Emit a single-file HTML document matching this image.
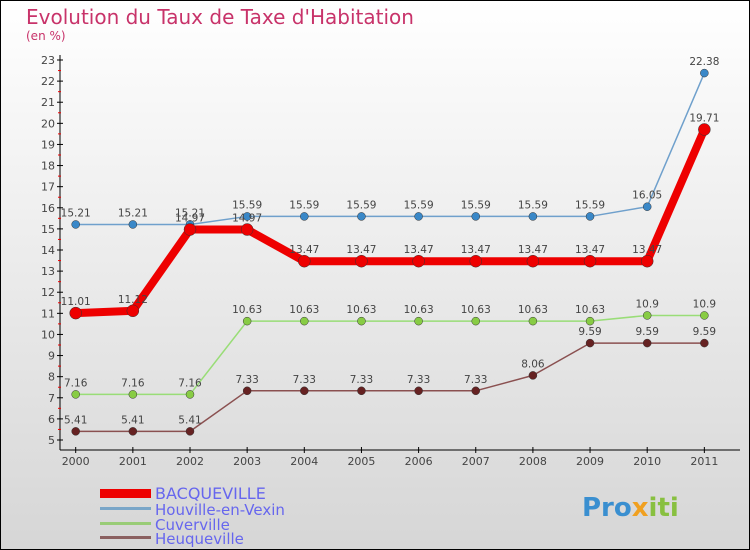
<!DOCTYPE html>
<html><head><meta charset="utf-8"><style>
body{margin:0}
#c{width:750px;height:550px;position:relative;overflow:hidden}
text{font-family:"DejaVu Sans","Liberation Sans",sans-serif}
</style></head><body>
<div id="c">
<svg id="s" width="750" height="550" xmlns="http://www.w3.org/2000/svg">
<defs><linearGradient id="bg" x1="0" y1="0" x2="0" y2="1"><stop offset="0" stop-color="#ffffff"/><stop offset="1" stop-color="#d6d6d6"/></linearGradient></defs>
<rect x="0.5" y="0.5" width="749" height="549" fill="url(#bg)" stroke="#000"/>
<text x="26" y="24" font-size="20" fill="#c8336a">Evolution du Taux de Taxe d'Habitation</text>
<text x="26" y="40" font-size="12" fill="#c8336a">(en %)</text>
<g id="axes"></g><g id="series"></g>
<g>
<rect x="100" y="489" width="51" height="9" fill="#e00"/>
<text x="155" y="499" font-size="16" fill="#6666ee">BACQUEVILLE</text>
<rect x="100" y="507" width="51" height="3" fill="#7aa6c8"/>
<text x="155" y="515" font-size="15" fill="#6666ee">Houville-en-Vexin</text>
<rect x="100" y="522" width="51" height="3" fill="#99cc77"/>
<text x="155" y="530" font-size="15" fill="#6666ee">Cuverville</text>
<rect x="100" y="536" width="51" height="3" fill="#8a6060"/>
<text x="155" y="544" font-size="15" fill="#6666ee">Heuqueville</text>
</g>
<g><text x="582" y="516" font-size="26" font-weight="bold" fill="#3a8fd0">Pro<tspan fill="#f0a020">x</tspan><tspan fill="#88c040">iti</tspan></text></g>
</svg></div>
<script>
const years=[2000,2001,2002,2003,2004,2005,2006,2007,2008,2009,2010,2011];
const bacq=[11.01,11.12,14.97,14.97,13.47,13.47,13.47,13.47,13.47,13.47,13.47,19.71];
const houv=[15.21,15.21,15.21,15.59,15.59,15.59,15.59,15.59,15.59,15.59,16.05,22.38];
const cuv=[7.16,7.16,7.16,10.63,10.63,10.63,10.63,10.63,10.63,10.63,10.9,10.9];
const heuq=[5.41,5.41,5.41,7.33,7.33,7.33,7.33,7.33,8.06,9.59,9.59,9.59];
const yTicks=[5,6,7,8,9,10,11,12,13,14,15,16,17,18,19,20,21,22,23];
const NS='http://www.w3.org/2000/svg';
const X=i=>75.7+i*57.15, Y=v=>440-(v-5)*(380/18);
function mk(t,a,p){const e=document.createElementNS(NS,t);for(const k in a)e.setAttribute(k,a[k]);p.appendChild(e);return e;}
const ax=document.getElementById('axes'),sr=document.getElementById('series');
let l=mk('line',{x1:60,y1:55,x2:60,y2:450,stroke:'#000'},ax);

l=mk('line',{x1:60,y1:450,x2:740,y2:450,stroke:'#000'},ax);

yTicks.forEach(v=>{mk('line',{x1:57,x2:63,y1:Y(v),y2:Y(v),stroke:'#000'},ax);
 if(v<23)mk('line',{x1:58,x2:61,y1:Y(v+0.5),y2:Y(v+0.5),stroke:'#e00'},ax);
 const t=mk('text',{x:55,y:Y(v)+4,'font-size':11,fill:'#444','text-anchor':'end'},ax);t.textContent=v;
 });
years.forEach((y,i)=>{mk('line',{x1:X(i),x2:X(i),y1:447,y2:453,stroke:'#000'},ax);
 const t=mk('text',{x:X(i),y:465,'font-size':11,fill:'#444','text-anchor':'middle'},ax);t.textContent=y;
 });
function series(d,name,col,w,r,dot){const g=mk('g',{},sr);
 
 mk('polyline',{points:d.map((v,i)=>X(i)+','+Y(v)).join(' '),fill:'none',stroke:col,'stroke-width':w,'stroke-linejoin':'round'},g);
 d.forEach((v,i)=>{const c=mk('circle',{cx:X(i),cy:Y(v),r:r,fill:dot,stroke:'#333','stroke-width':0.5},g);
  
  const t=mk('text',{x:X(i),y:Y(v)-8,'font-size':10.5,fill:'#444','text-anchor':'middle'},g);t.textContent=v;
  });}
series(heuq,'heuqueville','#8a5050',1.5,4,'#662222');
series(cuv,'cuverville','#99dd77',1.5,4,'#88cc44');
series(houv,'houville','#6fa0cc',1.5,4,'#3a88c8');
series(bacq,'bacqueville','#ee0000',8,6,'#ee0000');
</script>
</body></html>
